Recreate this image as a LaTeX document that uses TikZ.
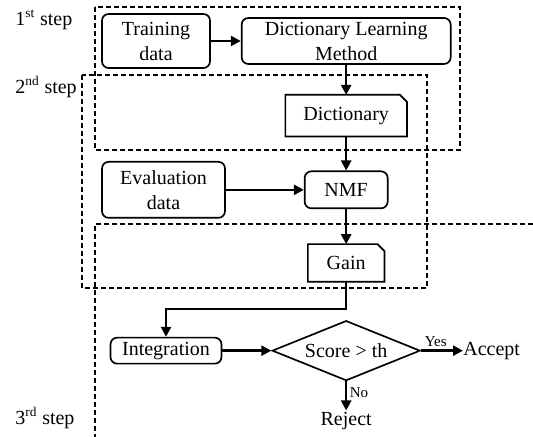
\documentclass[tikz,border=0pt]{standalone}
\usepackage{fontspec}
\setmainfont{Liberation Serif}
\usetikzlibrary{arrows.meta,positioning,shapes.geometric}

\begin{document}
\begin{tikzpicture}[
  x=0.6pt, y=-0.6pt,
  font=\fontsize{12}{15}\selectfont,
  node distance=18pt,
  >={Triangle[length=6pt,width=6pt]},
  block/.style={
    rectangle, rounded corners=4pt, draw, line width=1pt,
    align=center, inner sep=1pt},
  doc/.style={
    rectangle, align=center, inner sep=1pt,
    append after command={\pgfextra{\draw[line width=1pt]
      (\tikzlastnode.south west) -- (\tikzlastnode.south east)
      -- ([yshift=-4.2pt]\tikzlastnode.north east)
      -- ([xshift=-4.2pt]\tikzlastnode.north east)
      -- (\tikzlastnode.north west) -- cycle;}}},
  decide/.style={
    diamond, draw, line width=1pt, inner sep=0pt, shape aspect=2.5,
    minimum width=88.8pt, minimum height=36pt},
  flow/.style={->, line width=1.5pt},
  stepbox/.style={dash pattern=on 3pt off 1.8pt, line width=0.9pt},
  steplbl/.style={anchor=west, inner sep=0pt},
  lbl/.style={font=\fontsize{9}{10}\selectfont, inner sep=1.5pt},
]
\useasboundingbox (0,0) rectangle (533,437);

% ---- Step frames ----
\draw[stepbox] (95,7) rectangle (460,150);
\draw[stepbox] (82,75) rectangle (427,288);
\draw[stepbox] (533,224) -- (95,224) -- (95,437);

\node[steplbl] (s1) at (15,20) {1\textsuperscript{st} step};
\node[steplbl] (s2) at (15,87) {2\textsuperscript{nd} step};
\node[steplbl] (s3) at (15,418) {3\textsuperscript{rd} step};

% ---- Dictionary learning ----
\node[block, minimum width=64.8pt, minimum height=32.4pt] (train) at (156,41) {Training\\data};
\node[block, minimum width=125.4pt, minimum height=27.6pt, right=18pt of train] (dlm) {Dictionary Learning\\Method};
\node[doc, minimum width=72.6pt, minimum height=24.6pt, below=18pt of dlm] (dict) {Dictionary};

% ---- Decomposition ----
\node[block, minimum width=49.8pt, minimum height=22.2pt, below=20.4pt of dict] (nmf) {NMF};
\node[block, minimum width=73.8pt, minimum height=33.6pt, left=46.8pt of nmf] (eval) {Evaluation\\data};
\node[doc, minimum width=45.6pt, minimum height=22.2pt, below=21pt of nmf] (gain) {Gain};

% ---- Decision ----
\node[decide, below=22.8pt of gain] (score) {Score > th};
\node[block, minimum width=66.6pt, minimum height=15.6pt, left=29.4pt of score] (integ) {Integration};
\node[inner sep=0pt, right=25.2pt of score] (accept) {Accept};
\node[inner sep=1pt, below=17.4pt of score] (reject) {Reject};

% ---- Edges ----
\draw[flow] (train) -- (dlm);
\draw[flow] (dlm) -- (dict);
\draw[flow] (dict) -- (nmf);
\draw[flow] (eval) -- (nmf);
\draw[flow] (nmf) -- (gain);
\draw[flow] (gain.south) -- ++(0,27) -| (integ.north);
\draw[flow] (integ) -- (score);
\draw[flow] (score) -- node[lbl, above, pos=0.35]{Yes} (accept);
\draw[flow] (score) -- node[lbl, right, pos=0.4]{No} (reject);

\end{tikzpicture}
\end{document}
